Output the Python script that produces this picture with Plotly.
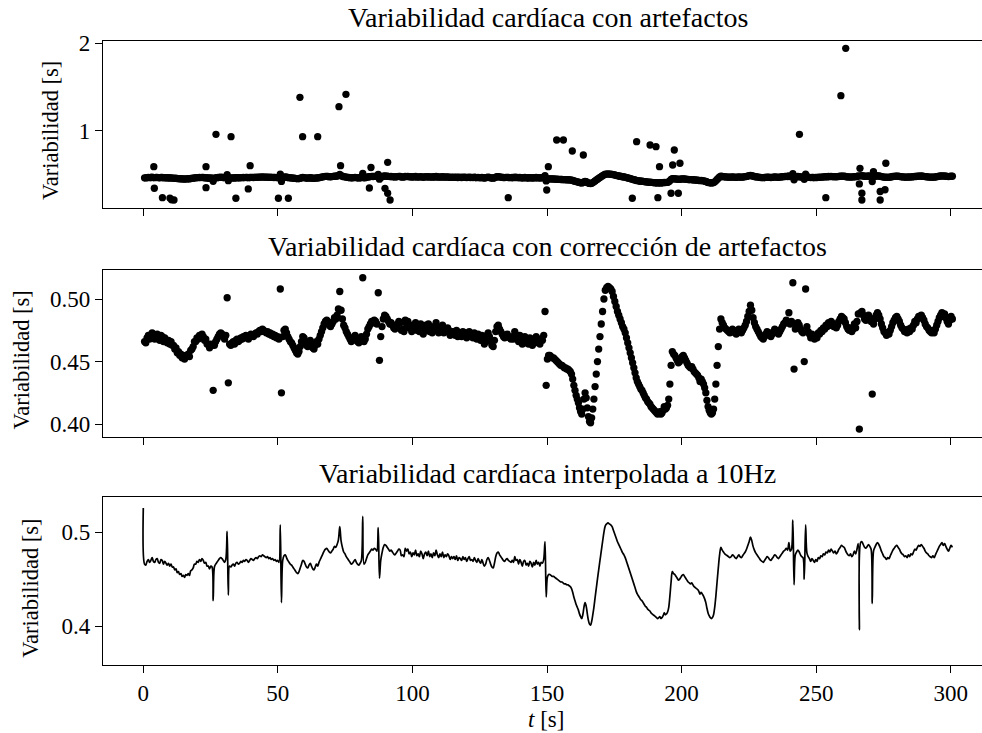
import numpy as np
import plotly.graph_objects as go

# ---------------- DATA ----------------
# Corrected RR intervals (ms), in beat order; beat times are their running sum.
rr_0_26 = [466, 465, 469, 471, 468, 470, 473, 469, 468, 471, 472, 468, 467, 471, 470, 466, 469, 467, 465, 467, 464,
           466, 463, 463, 460, 461, 457, 458, 455, 456, 453, 454, 452, 455, 454, 456, 454, 459, 460, 462, 466, 466, 469,
           468, 471, 469, 472, 470, 467, 468, 464, 464, 461, 464, 463, 427]
rr_26_51 = [463, 466, 468, 470, 472, 473, 472, 470, 468, 471, 501, 433,
            464, 463, 465, 466, 464, 467, 468, 466, 467, 469,
            468, 470, 469, 471, 470, 468, 470, 472, 471, 470,
            472, 473, 472, 474, 475, 474, 476, 475, 474, 473,
            474, 472, 473, 471, 472, 470, 471, 469, 470, 468, 508, 425]
rr_51_88 = [470, 475, 476, 473, 470, 468, 466, 465, 463, 461,
            459, 457, 456, 458, 462, 466, 470, 469, 466, 463,
            462, 465, 467, 464, 461, 460, 463, 466, 464, 468,
            471, 474, 477, 480, 482, 483, 481, 479, 478, 480, 482, 485,
            484, 487, 492, 506, 491, 484, 479, 477,
            474, 472, 470, 468, 466, 467, 469, 471, 468, 466, 465, 467, 470, 517,
            466, 468, 472, 476, 478, 480, 482, 481, 483, 482, 480, 505, 451]
rr_88_150 = [470, 478, 484, 487, 486, 484, 482, 480, 481, 479, 477, 476, 478, 480, 482,
             481, 475, 476, 474, 483, 480, 482, 477, 479, 474, 478, 476, 481, 475, 477, 474, 480, 477, 472, 477,
             479, 475, 480, 474, 477, 473, 478, 475, 481, 476, 473, 477, 474, 479, 473, 476, 474, 477,
             475, 471, 474, 472, 474, 471, 475, 470, 473, 472, 470, 474, 471, 473, 469, 472, 474, 470, 471, 469,
             473, 470, 468, 472, 469, 467, 471,
             467, 464, 466, 471, 473, 470, 466, 463, 462, 467, 474, 478, 479, 476, 474, 472, 470, 469, 471, 472,
             470, 469, 468,
             470, 468, 474, 470, 471, 466, 471, 468, 464, 469, 470, 465, 467, 464, 469, 467, 463, 468, 465, 470,
             466, 468, 464, 468, 467, 471, 490, 431]
rr_150_194 = [452, 455, 455, 454, 453, 453, 452, 451, 450, 449, 448, 447, 447, 446, 445, 445, 444, 444, 443, 442,
              440, 436, 431, 427, 423, 420, 417, 413, 410, 408, 412, 420, 425, 421, 413, 406, 402, 401,
              405, 412, 420, 430, 440, 450, 460, 470, 480, 490, 500, 507, 509, 510, 509, 508,
              506, 502, 498, 494, 490, 487, 484, 481, 478, 476, 473, 469, 465, 461, 457, 453, 449, 445, 441, 437,
              434, 432, 430, 428, 427, 425, 423, 421, 420, 418, 417, 416, 414, 413, 412, 411, 410, 409, 408, 409,
              410, 408, 409, 411, 414]
rr_194_215 = [412, 413, 415, 420, 432, 447, 458, 456, 455, 453, 451, 449, 450, 452, 454, 455, 453, 451, 449, 447,
              446, 445, 446, 444, 442, 441, 440, 439, 437, 434,
              436, 434, 432, 429, 425, 419, 414, 411, 409, 408, 409, 412, 420, 432, 447, 462, 476, 484]
rr_215_246 = [481, 479, 477, 476, 475, 474, 473, 474, 476, 475, 473, 472, 474, 476, 474, 473, 475, 477, 479, 482,
              486, 490, 495, 491, 485, 481, 478, 476, 474, 472, 470, 469, 468, 470, 472, 474, 473, 471, 470, 472,
              474, 476, 475, 473, 472, 474, 476, 478, 480, 481, 483, 481, 489, 480, 482, 513, 444,
              476, 479, 481, 479, 476, 474, 473, 450, 508]
rr_246_271 = [478, 474, 472, 469, 472, 470, 468, 471, 469, 473,
              472, 475, 474, 477, 476, 479, 478, 481, 479, 482, 480,
              478, 480, 477, 479, 482, 484, 486, 485,
              484, 481, 478, 476, 475, 477, 474, 476,
              480, 477, 482, 488, 396, 489, 490, 487, 484, 483, 485, 487, 485, 482, 424]
rr_271_301 = [480, 484, 487, 489, 487,
              484, 480, 477, 474, 473, 471, 473, 472,
              475, 478, 481, 483, 485, 486, 484,
              482, 479, 477, 476, 474, 475, 473, 476,
              474, 477, 476, 479, 482, 481, 484, 486, 485, 487,
              485, 483, 480, 478, 477, 475, 474, 473, 475, 473,
              476, 479, 482, 485, 487, 489, 486, 488,
              485, 482, 480, 483, 486, 484]

# Artefacts present only in the raw series (time [s], value [s])
art_t = [3.9, 4.1, 7.1, 9.9, 10.5, 11.4, 23.3, 23.3, 27.0, 32.6, 34.4, 39.0, 39.7, 50.2, 53.9, 58.2, 59.2,
         64.8, 72.7, 73.3, 75.3, 84.0, 84.6, 89.8, 90.8, 90.8, 91.7, 135.6, 149.9, 150.5, 153.6, 156.1,
         159.4, 163.5, 181.7, 183.3, 188.3, 190.5, 191.2, 191.8, 196.1, 196.7, 197.3, 198.8, 199.4,
         243.8, 253.6, 259.2, 261.0, 266.3, 267.0, 267.0, 271.3, 273.8, 273.8, 275.6, 275.9]
art_v = [0.593, 0.347, 0.240, 0.235, 0.215, 0.213, 0.593, 0.354, 0.962, 0.935, 0.233, 0.339, 0.605, 0.233,
         0.233, 1.384, 0.935, 0.935, 1.277, 0.605, 1.418, 0.350, 0.584, 0.346, 0.643, 0.290, 0.213, 0.240,
         0.327, 0.593, 0.897, 0.897, 0.772, 0.726, 0.233, 0.878, 0.840, 0.821, 0.240, 0.593, 0.290, 0.612,
         0.783, 0.290, 0.632, 0.962, 0.240, 1.403, 1.943, 0.574, 0.290, 0.213, 0.536, 0.310, 0.213, 0.330,
         0.632]

# First sample of the 10 Hz interpolated signal (t = 0)
interp_t0 = 0.0
interp_v0 = 0.526

titles = ["Variabilidad cardíaca con artefactos",
          "Variabilidad cardíaca con corrección de artefactos",
          "Variabilidad cardíaca interpolada a 10Hz"]
x_ticks = [0, 50, 100, 150, 200, 250, 300]

# ---------------- DERIVED ----------------
rr_ms = rr_0_26 + rr_26_51 + rr_51_88 + rr_88_150 + rr_150_194 + rr_194_215 + rr_215_246 + rr_246_271 + rr_271_301
rr_corr = np.array(rr_ms) / 1000.0
t_corr = np.cumsum(rr_corr)

raw_t = np.concatenate([t_corr, art_t])
raw_v = np.concatenate([rr_corr, art_v])

FONT = "Liberation Serif"
BLACK = "black"

fig = go.Figure()
mk = dict(color=BLACK, size=7.3, line=dict(width=0))
fig.add_trace(go.Scatter(x=raw_t, y=raw_v, mode="markers", marker=mk, xaxis="x", yaxis="y"))
fig.add_trace(go.Scatter(x=t_corr, y=rr_corr, mode="markers", marker=mk, xaxis="x2", yaxis="y2"))
fig.add_trace(go.Scatter(x=np.concatenate([[interp_t0], t_corr]), y=np.concatenate([[interp_v0], rr_corr]),
                         mode="lines", line=dict(color=BLACK, width=1.7, shape="spline", smoothing=1.0),
                         xaxis="x3", yaxis="y3"))

W, H = 982, 733
ML, MR, MT, MB = 103, 0, 41, 68
PW, PH = W - ML - MR, H - MT - MB
xr = [-(143.3 - ML) / 2.6913, -(143.3 - ML) / 2.6913 + PW / 2.6913]


def ydom(top_px, bot_px):
    return [(H - MB - bot_px) / PH, (H - MB - top_px) / PH]


doms = [ydom(41, 207.7), ydom(270, 436.7), ydom(497.3, 665)]
tickfont = dict(family=FONT, size=23, color=BLACK)
axcommon = dict(showline=True, linecolor=BLACK, linewidth=1.25, ticks="outside", ticklen=7, tickwidth=1.25,
                tickcolor=BLACK, showgrid=False, zeroline=False, tickfont=tickfont)

layout = dict(width=W, height=H, margin=dict(l=ML, r=MR, t=MT, b=MB), showlegend=False,
              paper_bgcolor="white", plot_bgcolor="white")
yranges = [[0.1254, 2.026], [0.3899, 0.5232], [0.3584, 0.5374]]
yticks = [dict(tickvals=[1, 2], ticktext=["1", "2"]),
          dict(tickvals=[0.40, 0.45, 0.50], ticktext=["0.40", "0.45", "0.50"]),
          dict(tickvals=[0.4, 0.5], ticktext=["0.4", "0.5"])]
for i in range(3):
    sx = "" if i == 0 else str(i + 1)
    layout["xaxis" + sx] = dict(axcommon, range=xr, tickvals=x_ticks, ticktext=[str(v) for v in x_ticks],
                                mirror=True, anchor="y" + sx, domain=[0, 1], showticklabels=(i == 2))
    layout["yaxis" + sx] = dict(axcommon, range=yranges[i], mirror=False, anchor="x" + sx, domain=doms[i],
                                **yticks[i])
fig.update_layout(**layout)

ann = []
tops = [doms[0][1], doms[1][1], doms[2][1]]
for i in range(3):
    sx = "" if i == 0 else str(i + 1)
    ann.append(dict(text=titles[i], xref="x" + sx, x=150.3, yref="paper", y=tops[i], yanchor="bottom",
                    xanchor="center", yshift=6, showarrow=False, font=dict(family=FONT, size=28, color=BLACK)))
ylab_x = [50.5, 20.5, 30.5]
ylab_y = [130.5, 360.0, 588.3]
for i in range(3):
    ann.append(dict(text="Variabilidad [s]", xref="paper", x=(ylab_x[i] - ML) / PW, yref="paper",
                    y=(H - MB - ylab_y[i]) / PH, xanchor="center", yanchor="middle", textangle=-90,
                    showarrow=False, font=dict(family=FONT, size=22.5, color=BLACK)))
ann.append(dict(text="<i>t</i> [s]", xref="x3", x=149.5, yref="paper", y=0, yanchor="top", xanchor="center",
                yshift=-40, showarrow=False, font=dict(family=FONT, size=23, color=BLACK)))
fig.update_layout(annotations=ann)

fig.write_html("out.html")
